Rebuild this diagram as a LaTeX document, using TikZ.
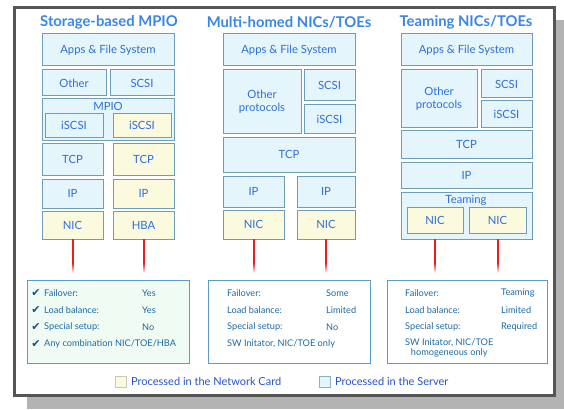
\documentclass[tikz,border=0pt]{standalone}
\usepackage{fontspec}
\setmainfont{Lato}
\newfontfamily\dejavu{DejaVu Sans}
\definecolor{ttl}{HTML}{3A86E8}
\definecolor{btxt}{HTML}{2E6FDB}
\definecolor{bfill}{HTML}{E4F5FC}
\definecolor{bdraw}{HTML}{6E9DBA}
\definecolor{yfill}{HTML}{FBFADF}
\definecolor{itxt}{HTML}{1C6AA3}
\definecolor{framec}{HTML}{555555}
\definecolor{shadowc}{HTML}{B3B3B3}
\definecolor{gfill}{HTML}{F0FBF4}
\definecolor{ibord}{HTML}{5E9CC8}
\definecolor{wirered}{HTML}{EE1C22}
\definecolor{legtxt}{HTML}{2453D0}
\newcommand\bx[7]{%
  \pgfmathsetmacro\bxw{#5-#3}\pgfmathsetmacro\bxh{#6-#4}%
  \node[#1, anchor=north west, minimum width=\bxw pt, minimum height=\bxh pt] (#2) at (#3,#4) {#7};}
\newcommand\wire[2]{%
  \coordinate (#2) at ([shift={(0,24)}]#1);%
  \draw[redl] (#1) -- (#2);%
  \foreach \k in {0,...,9}{%
    \pgfmathsetmacro\pc{100-10*\k}%
    \draw[redl, draw=wirered!\pc!white, line cap=butt] ([shift={(0,\k)}]#2) -- ([shift={(0,\k+1.05)}]#2);}}
\newcommand\irow[4]{\node[itext, anchor=west] (#1) at (#2,#3) {#4};}
\begin{document}
\begin{tikzpicture}[x=1pt,y=-1pt,
  box/.style={draw=bdraw, line width=1pt, fill=bfill, text=btxt, inner sep=0pt, outer sep=0pt,
    font=\fontsize{11.3}{13}\selectfont, align=center},
  ybox/.style={box, fill=yfill},
  lbl/.style={text=btxt, inner sep=0pt, font=\fontsize{11.3}{13}\selectfont},
  ttlstyle/.style={text=ttl, inner sep=0pt, font=\fontsize{14.8}{16}\selectfont\bfseries},
  redl/.style={draw=wirered, line width=2pt},
  ibox/.style={draw=ibord, line width=0.9pt, inner sep=0pt, anchor=north west},
  itext/.style={text=itxt, inner sep=0pt, font=\fontsize{9.2}{10.5}\selectfont, align=center},
  chk/.style={text=itxt!80!black, inner sep=0pt, font=\dejavu\fontsize{11}{12}\selectfont},
  legtext/.style={text=legtxt, inner sep=0pt, anchor=west, font=\fontsize{11}{13}\selectfont}
]
\useasboundingbox (0,0) rectangle (564,409);
\fill[shadowc] (27,20) rectangle (564,409);
\filldraw[fill=white, draw=framec, line width=3pt] (14.5,7.5) rectangle (554.5,395.5);

% titles
\node[ttlstyle] (t1) at (109,22) {Storage-based MPIO};
\node[ttlstyle] (t2) at (289,22) {Multi-homed NICs/TOEs};
\node[ttlstyle] (t3) at (466,22) {Teaming NICs/TOEs};

% column 1
\bx{box}{a1}{42}{34}{174}{66}{Apps \& File System}
\bx{box}{o1}{42}{70}{106}{96}{Other}
\bx{box}{s1}{110}{70}{174}{96}{SCSI}
\bx{box}{m1}{42}{99}{174}{140}{}
\node[lbl] (m1l) at (108,106) {MPIO};
\bx{box}{i1a}{45}{113}{103}{137}{iSCSI}
\bx{ybox}{i1b}{113}{113}{171}{137}{iSCSI}
\bx{box}{t1a}{42}{143}{103}{175}{TCP}
\bx{ybox}{t1b}{113}{143}{174}{175}{TCP}
\bx{box}{p1a}{42}{179}{103}{208}{IP}
\bx{ybox}{p1b}{113}{179}{174}{208}{IP}
\bx{ybox}{n1a}{42}{211}{103}{239}{NIC}
\bx{ybox}{n1b}{113}{211}{174}{239}{HBA}

% column 2
\bx{box}{a2}{223}{34}{355}{66}{Apps \& File System}
\bx{box}{o2}{223}{70}{301}{133}{Other\\protocols}
\bx{box}{s2}{304}{70}{355}{101}{SCSI}
\bx{box}{i2}{304}{105}{355}{133}{iSCSI}
\bx{box}{t2}{223}{137}{355}{172}{TCP}
\bx{box}{p2a}{223}{176}{284}{207}{IP}
\bx{box}{p2b}{297}{176}{355}{207}{IP}
\bx{ybox}{n2a}{223}{210}{284}{239}{NIC}
\bx{ybox}{n2b}{297}{210}{355}{239}{NIC}

% column 3
\bx{box}{a3}{401}{34}{532}{66}{Apps \& File System}
\bx{box}{o3}{401}{70}{477}{127}{Other\\protocols}
\bx{box}{s3}{481}{70}{532}{98}{SCSI}
\bx{box}{i3}{481}{101}{532}{127}{iSCSI}
\bx{box}{t3b}{401}{130}{532}{158}{TCP}
\bx{box}{p3}{401}{162}{532}{188}{IP}
\bx{box}{tm3}{401}{192}{532}{239}{}
\node[lbl] (tm3l) at (466,200) {Teaming};
\bx{ybox}{n3a}{407}{207}{463}{233}{NIC}
\bx{ybox}{n3b}{469}{207}{526}{233}{NIC}

% wires
\wire{n1a.south}{e1a}
\wire{n1b.south}{e1b}
\wire{n2a.south}{e2a}
\wire{n2b.south}{e2b}
\wire{n3a.south |- tm3.south}{e3a}
\wire{n3b.south |- tm3.south}{e3b}

% info boxes
\node[ibox, fill=gfill, minimum width=162pt, minimum height=83pt] (f1) at (27,280) {};
\node[ibox, fill=white, minimum width=162pt, minimum height=83pt] (f2) at (208,280) {};
\node[ibox, fill=white, minimum width=160pt, minimum height=83pt] (f3) at (387,280) {};

\node[chk] (c1) at (36,293) {✔};
\node[chk] (c2) at (36,310) {✔};
\node[chk] (c3) at (36,327) {✔};
\node[chk] (c4) at (36,344) {✔};
\irow{r11}{44}{293}{Failover:}
\irow{r12}{44}{310}{Load balance:}
\irow{r13}{44}{327}{Special setup:}
\irow{r14}{44}{344}{Any combination NIC/TOE/HBA}
\irow{v11}{142}{293}{Yes}
\irow{v12}{142}{310}{Yes}
\irow{v13}{142}{327}{No}

\irow{r21}{227}{293}{Failover:}
\irow{r22}{227}{310}{Load balance:}
\irow{r23}{227}{327}{Special setup:}
\irow{r24}{227}{344}{SW Initator, NIC/TOE only}
\irow{v21}{326}{293}{Some}
\irow{v22}{326}{310}{Limited}
\irow{v23}{326}{327}{No}

\irow{r31}{405}{293}{Failover:}
\irow{r32}{405}{310}{Load balance:}
\irow{r33}{405}{327}{Special setup:}
\node[itext, anchor=north west] (r34) at (405,338.5) {SW Initator, NIC/TOE\\homogeneous only};
\irow{v31}{501}{293}{Teaming}
\irow{v32}{501}{310}{Limited}
\irow{v33}{501}{327}{Required}

% legend
\node[draw=yfill!60!gray, fill=yfill, line width=0.8pt, minimum size=10.5pt, inner sep=0pt, anchor=north west] (ly) at (115,376) {};
\node[legtext] (lyt) at (131,381) {Processed in the Network Card};
\node[draw=bdraw!80, fill=bfill, line width=0.8pt, minimum size=10.5pt, inner sep=0pt, anchor=north west] (lb) at (319,376) {};
\node[legtext] (lbt) at (335,381) {Processed in the Server};
\end{tikzpicture}
\end{document}
